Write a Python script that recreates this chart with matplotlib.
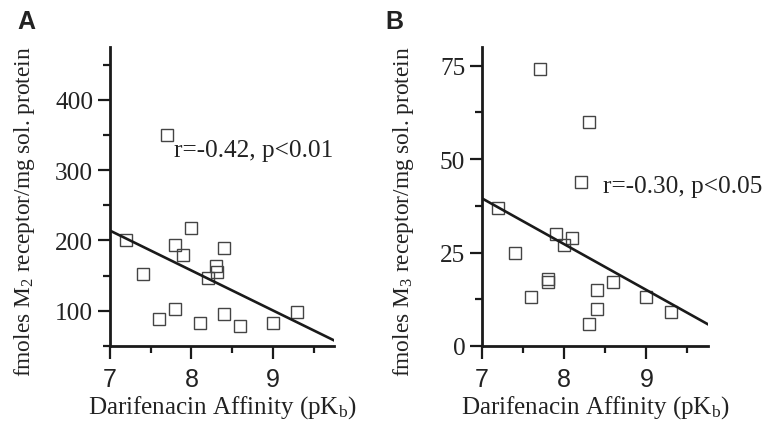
import matplotlib
matplotlib.use("Agg")
import matplotlib.pyplot as plt
from matplotlib.ticker import MultipleLocator

# ---- data ----
xA = [7.2, 7.4, 7.7, 7.6, 7.8, 7.8, 7.9, 8.0, 8.1, 8.2, 8.3, 8.31, 8.4, 8.4, 8.6, 9.0, 9.3]
yA = [200, 152, 350, 88, 103, 194, 180, 218, 83, 147, 164, 155, 190, 95, 79, 82, 98]
fitA_x = [7.0, 9.75]
fitA_y = [214, 58]

xB = [7.2, 7.4, 7.7, 7.6, 7.8, 7.8, 7.9, 8.0, 8.1, 8.2, 8.3, 8.3, 8.4, 8.4, 8.6, 9.0, 9.3]
yB = [37, 25, 74, 13, 18, 17, 30, 27, 29, 44, 60, 6, 15, 10, 17, 13, 9]
fitB_x = [7.0, 9.75]
fitB_y = [39.5, 5.8]

xticks = [7, 8, 9]
yticksA = [100, 200, 300, 400]
yticksB = [0, 25, 50, 75]

plt.rcParams['mathtext.fontset'] = 'custom'
plt.rcParams['mathtext.rm'] = 'Liberation Serif'
plt.rcParams['mathtext.it'] = 'Liberation Serif:italic'

TXT = '#222222'
SERIF = 'Liberation Serif'
SANS = 'Liberation Sans'

fig = plt.figure(figsize=(7.66, 4.31), dpi=100)

def style(ax, xs, ys, fx, fy, yt, ylim, yminor, ylab, ylab_x, note, note_xy):
    ax.plot(xs, ys, linestyle='none', marker='s', markersize=8.2,
            markerfacecolor='none', markeredgecolor='#444444', markeredgewidth=1.0)
    ax.plot(fx, fy, color='#1a1a1a', linewidth=1.9)
    ax.set_xlim(7, 9.75)
    ax.set_ylim(*ylim)
    ax.set_xticks(xticks)
    ax.set_yticks(yt)
    ax.xaxis.set_minor_locator(MultipleLocator(0.5))
    ax.yaxis.set_minor_locator(MultipleLocator(yminor))
    for s in ['top', 'right']:
        ax.spines[s].set_visible(False)
    for s in ['left', 'bottom']:
        ax.spines[s].set_linewidth(2.0)
        ax.spines[s].set_color('#1a1a1a')
    ax.tick_params(which='major', direction='out', length=9, width=1.6, color='#1a1a1a')
    ax.tick_params(which='minor', direction='out', length=5, width=1.6, color='#1a1a1a')
    ax.tick_params(axis='x', which='major', pad=6)
    ax.tick_params(axis='y', which='major', pad=3)
    for lab in ax.get_xticklabels():
        lab.set_fontfamily(SANS)
        lab.set_fontsize(18)
        lab.set_color(TXT)
    for lab in ax.get_yticklabels():
        lab.set_fontfamily(SERIF)
        lab.set_fontsize(18.3)
        lab.set_color(TXT)
    ax.set_xlabel(r'Darifenacin Affinity (pK$_\mathrm{b}$)', fontfamily=SERIF,
                  fontsize=18, color=TXT, labelpad=2)
    ax.set_ylabel(ylab, fontfamily=SERIF, fontsize=16.8, color=TXT)
    ax.yaxis.set_label_coords(ylab_x, 0.4515)
    ax.text(note_xy[0], note_xy[1], note, fontfamily=SERIF, fontsize=18.2,
            color=TXT, va='baseline', ha='left')
    ax.patch.set_visible(False)

axA = fig.add_axes([110/766, 84/431, 224/766, 299/431])
style(axA, xA, yA, fitA_x, fitA_y, yticksA, (50, 475), 50,
      r'fmoles M$_2$ receptor/mg sol. protein', -0.326, 'r=-0.42, p<0.01', (7.79, 320))
axB = fig.add_axes([482/766, 84/431, 226/766, 299/431])
style(axB, xB, yB, fitB_x, fitB_y, yticksB, (0, 80), 12.5,
      r'fmoles M$_3$ receptor/mg sol. protein', -0.292, 'r=-0.30, p<0.05', (8.475, 41.1))

fig.text(17/766, 1 - 29/431, 'A', fontfamily=SANS, fontweight='bold', fontsize=18,
         color=TXT, va='baseline', ha='left')
fig.text(385/766, 1 - 29/431, 'B', fontfamily=SANS, fontweight='bold', fontsize=18,
         color=TXT, va='baseline', ha='left')

fig.savefig('out.png', dpi=100)
